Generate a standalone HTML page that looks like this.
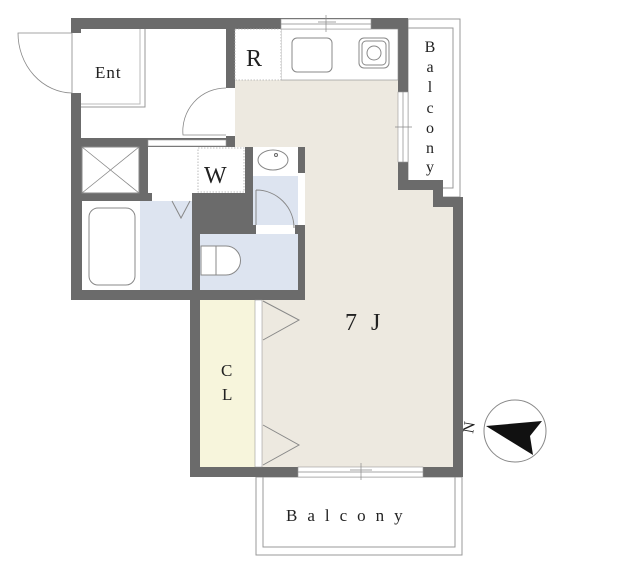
<!DOCTYPE html>
<html><head><meta charset="utf-8"><style>body{margin:0;background:#fff}svg{display:block}text{font-family:"Liberation Serif",serif;fill:#222}</style></head>
<body>
<svg width="640" height="567" viewBox="0 0 640 567" xmlns="http://www.w3.org/2000/svg">
<rect x="408" y="19" width="52" height="178" fill="#fff" stroke="#999" stroke-width="1"/>
<rect x="408" y="28" width="45" height="160" fill="none" stroke="#999" stroke-width="1"/>
<rect x="256" y="477" width="206" height="78" fill="#fff" stroke="#999"/>
<rect x="263" y="477" width="192" height="70" fill="none" stroke="#999"/>
<path d="M71 18 H408 V180 H443 V197 H463 V477 H190 V300 H71 Z" fill="#6b6b6b"/>
<path d="M235 80 H398 V190 H433 V207 H453 V467 H262 V300 H305 V147 H235 Z" fill="#ede9e0"/>
<rect x="281" y="29" width="117" height="51" fill="#fff" stroke="#888" stroke-width="0.6"/>
<rect x="235" y="29" width="46" height="51" fill="#fff" stroke="#aaa" stroke-dasharray="1.5,1.5" stroke-width="0.8"/>
<rect x="292" y="38" width="40" height="34" rx="5" fill="#fff" stroke="#888"/>
<rect x="359" y="38" width="30" height="30" rx="5" fill="#fff" stroke="#888"/>
<rect x="362" y="41" width="24" height="24" rx="4" fill="none" stroke="#888"/>
<circle cx="374" cy="53" r="7" fill="none" stroke="#888"/>
<rect x="81" y="29" width="145" height="109" fill="#fff"/>
<path d="M81 107 H145 V29" fill="none" stroke="#999"/>
<path d="M81 104 H140 V29" fill="none" stroke="#bbb"/>
<rect x="226" y="88" width="9" height="48" fill="#fff"/>
<path d="M226 88 A43 43 0 0 0 183 135 H226" fill="none" stroke="#888" stroke-width="0.8"/>
<rect x="71" y="33" width="10" height="60" fill="#fff"/>
<path d="M72 33 H18 A55 60 0 0 0 72 93 Z" fill="none" stroke="#888" stroke-width="0.8"/>
<rect x="82" y="147" width="57" height="46" fill="#fff" stroke="#888"/>
<path d="M82 147 L139 193 M139 147 L82 193" stroke="#888" stroke-width="0.8"/>
<rect x="148" y="147" width="97" height="46" fill="#fff"/>
<rect x="198" y="148" width="46" height="44" fill="none" stroke="#aaa" stroke-dasharray="1.5,1.5" stroke-width="0.8"/>
<rect x="148" y="140" width="78" height="6" fill="#fff" stroke="#999" stroke-width="0.6"/>
<rect x="82" y="201" width="58" height="89" fill="#fff"/>
<rect x="89" y="208" width="46" height="77" rx="9" fill="#fff" stroke="#888"/>
<rect x="140" y="201" width="52" height="89" fill="#dde4f0"/>
<rect x="152" y="193" width="40" height="8" fill="#fff"/>
<path d="M172 201 L181 218 L190 201" fill="none" stroke="#888"/>
<rect x="200" y="234" width="98" height="56" fill="#dde4f0"/>
<path d="M201 246 H216 V275 H201 Z M216 246 H226 A14 14 0 0 1 226 275 H216" fill="#fff" stroke="#888"/>
<rect x="253" y="147" width="45" height="29" fill="#fff"/>
<rect x="253" y="176" width="45" height="49" fill="#dde4f0"/>
<ellipse cx="273" cy="160" rx="15" ry="10" fill="#fff" stroke="#888"/>
<circle cx="276" cy="155" r="1.5" fill="none" stroke="#666"/>
<rect x="298" y="173" width="7" height="52" fill="#fff"/>
<rect x="256" y="225" width="39" height="9" fill="#fff"/>
<path d="M256 190 A38 38 0 0 1 294 228 M256 190 V225" fill="none" stroke="#888"/>
<rect x="200" y="300" width="55" height="167" fill="#f7f5dc"/>
<rect x="255" y="300" width="7" height="167" fill="#fff" stroke="#888" stroke-width="0.5"/>
<path d="M263 301 L299 320 L263 340 M263 425 L299 445 L263 465" fill="none" stroke="#888"/>
<rect x="281" y="19" width="90" height="10" fill="#fff" stroke="#999" stroke-width="0.6"/>
<path d="M281 24 H371 M326 15 V32 M318 22 H336" stroke="#888" stroke-width="0.7"/>
<rect x="398" y="92" width="10" height="70" fill="#fff" stroke="#999" stroke-width="0.6"/>
<path d="M403 92 V162 M395 127 H412 M403 120 V135" stroke="#888" stroke-width="0.7"/>
<rect x="298" y="467" width="125" height="10" fill="#fff" stroke="#999" stroke-width="0.6"/>
<path d="M298 472 H423 M361 463 V480 M350 470 H372" stroke="#888" stroke-width="0.7"/>
<text x="95" y="78" font-size="17" letter-spacing="1">Ent</text>
<text x="246" y="66" font-size="24">R</text>
<text x="204" y="183" font-size="24">W</text>
<text x="345" y="330" font-size="24" letter-spacing="4">7 J</text>
<text x="221" y="376" font-size="17">C</text>
<text x="222" y="400" font-size="17">L</text>
<text font-size="16" text-anchor="middle">
<tspan x="430" y="52">B</tspan><tspan x="430" y="72">a</tspan><tspan x="430" y="92">l</tspan><tspan x="430" y="113">c</tspan><tspan x="430" y="133">o</tspan><tspan x="430" y="153">n</tspan><tspan x="430" y="172">y</tspan></text>
<text x="286" y="521" font-size="17" letter-spacing="10">Balcony</text>
<circle cx="515" cy="431" r="31" fill="#fff" stroke="#888"/>
<path d="M486 426 L542 421 L530 436 L533 455 Z" fill="#111"/>
<text x="0" y="0" font-size="16" transform="translate(473,434) rotate(-80)">N</text>
</svg>
</body></html>
